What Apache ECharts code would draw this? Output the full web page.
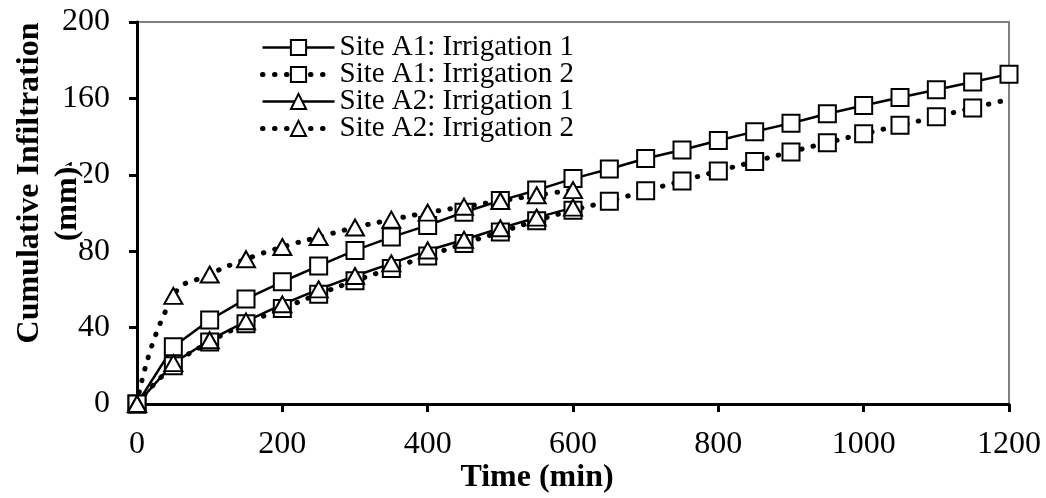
<!DOCTYPE html>
<html>
<head>
<meta charset="utf-8">
<script src="https://cdn.jsdelivr.net/npm/echarts@6/dist/echarts.min.js"></script>
<style>
html,body{margin:0;padding:0;background:#fff;}
#chart{width:1046px;height:498px;}
</style>
</head>
<body>
<div id="chart"></div>
<script>
// ---- data ----
const seriesNames = ['Site A1: Irrigation 1', 'Site A1: Irrigation 2', 'Site A2: Irrigation 1', 'Site A2: Irrigation 2'];
const timeA1 = [0,50,100,150,200,250,300,350,400,450,500,550,600,650,700,750,800,850,900,950,1000,1050,1100,1150,1200];
const a1Irr1 = [0,30,44,55,64,72.3,80.4,87.4,93.5,100.4,106.5,112,118,123,128.5,133,138,142.6,147,152,156.3,160.5,164.5,168.6,172.7];
const a1Irr2 = [0,20,32.5,42,50,57.5,64.5,71,77.5,84,90,96,101.5,106.2,111.6,116.8,122,127,132,136.8,141.5,145.9,150.4,155,159.5];
const timeA2 = [0,50,100,150,200,250,300,350,400,450,500,550,600];
const a2Irr1 = [0,21.4,33.4,43.3,52.2,60,67,73.6,80.4,86,92,97.6,102.8];
const a2Irr2 = [0,56.6,67.8,75.8,82.2,87.4,92.4,96.5,100.2,103.3,106.3,109.3,112];
const xTicks = {min:0, max:1200, interval:200};
const yTicks = {min:0, max:200, interval:40};
const xTitle = 'Time (min)';
const yTitle1 = 'Cumulative Infiltration';
const yTitle2 = '(mm)';

// ---- chart ----
const FONT = "'Liberation Serif','Times New Roman',serif";
const pairs = (xs, ys) => xs.map((x, i) => [x, ys[i]]);
const solid = {color:'#000', width:2.5, type:'solid'};
const dotted = {color:'#000', width:5, type:[0.5, 11.5], cap:'round'};
const mk = (name, data, sym, size, line, smooth) => ({
  name, type:'line', data, symbol:sym, symbolSize:size, smooth, clip:false,
  showAllSymbol:true,
  lineStyle:line,
  itemStyle:{color:'#fff', borderColor:'#000', borderWidth:2},
  emphasis:{disabled:true}, animation:false
});
const a1i2Data = pairs(timeA1, a1Irr2).map((p, i, arr) => i === arr.length - 1 ? {value:p, symbol:'none'} : p);
const legendLines = [solid, dotted, solid, dotted];

const chart = echarts.init(document.getElementById('chart'), null, {renderer:'canvas'});
chart.setOption({
  animation:false,
  backgroundColor:'#fff',
  grid:{left:137, right:37, top:22, bottom:94, show:true, borderColor:'#808080', borderWidth:2, backgroundColor:'transparent'},
  legend:{
    orient:'vertical', left:260, top:33, padding:0, itemGap:-2, itemWidth:72, itemHeight:19,
    textStyle:{fontFamily:FONT, fontSize:29, color:'#000'},
    data:seriesNames.map((n, i) => ({name:n, lineStyle:Object.assign({}, legendLines[i], {width: i % 2 ? 5 : 2.5})})),
    selectedMode:false
  },
  xAxis:{
    type:'value', min:xTicks.min, max:xTicks.max, interval:xTicks.interval,
    axisLine:{show:true, onZero:false, lineStyle:{color:'#000', width:3}},
    axisTick:{show:true, inside:false, length:8, lineStyle:{color:'#000', width:3}},
    axisLabel:{fontFamily:FONT, fontSize:32, color:'#000', margin:25, formatter:v => String(v)},
    splitLine:{show:false}
  },
  yAxis:{
    type:'value', min:yTicks.min, max:yTicks.max, interval:yTicks.interval,
    axisLine:{show:true, onZero:false, lineStyle:{color:'#000', width:3}},
    axisTick:{show:true, inside:false, length:8, lineStyle:{color:'#000', width:3}},
    axisLabel:{fontFamily:FONT, fontSize:32, color:'#000', margin:27, formatter:v => String(v)},
    splitLine:{show:false}
  },
  graphic:[
    {type:'text', x:537, y:478, z:100, style:{text:xTitle, fontFamily:FONT, fontSize:32, fontWeight:'bold', fill:'#000', align:'center', verticalAlign:'middle'}},
    {type:'text', x:30, y:183, rotation:Math.PI/2, z:100, style:{text:yTitle1, fontFamily:FONT, fontSize:32, fontWeight:'bold', fill:'#000', align:'center', verticalAlign:'middle'}},
    {type:'text', x:68, y:204, rotation:Math.PI/2, z:100, style:{text:yTitle2, fontFamily:FONT, fontSize:32, fontWeight:'bold', fill:'#000', align:'center', verticalAlign:'middle', backgroundColor:'#fff', padding:[0,1]}}
  ],
  series:[
    mk(seriesNames[0], pairs(timeA1, a1Irr1), 'rect', 17, solid, false),
    mk(seriesNames[1], a1i2Data, 'rect', 17, dotted, true),
    mk(seriesNames[2], pairs(timeA2, a2Irr1), 'triangle', [18,16], solid, false),
    mk(seriesNames[3], pairs(timeA2, a2Irr2), 'triangle', [18,16], dotted, true)
  ]
});
</script>
</body>
</html>
